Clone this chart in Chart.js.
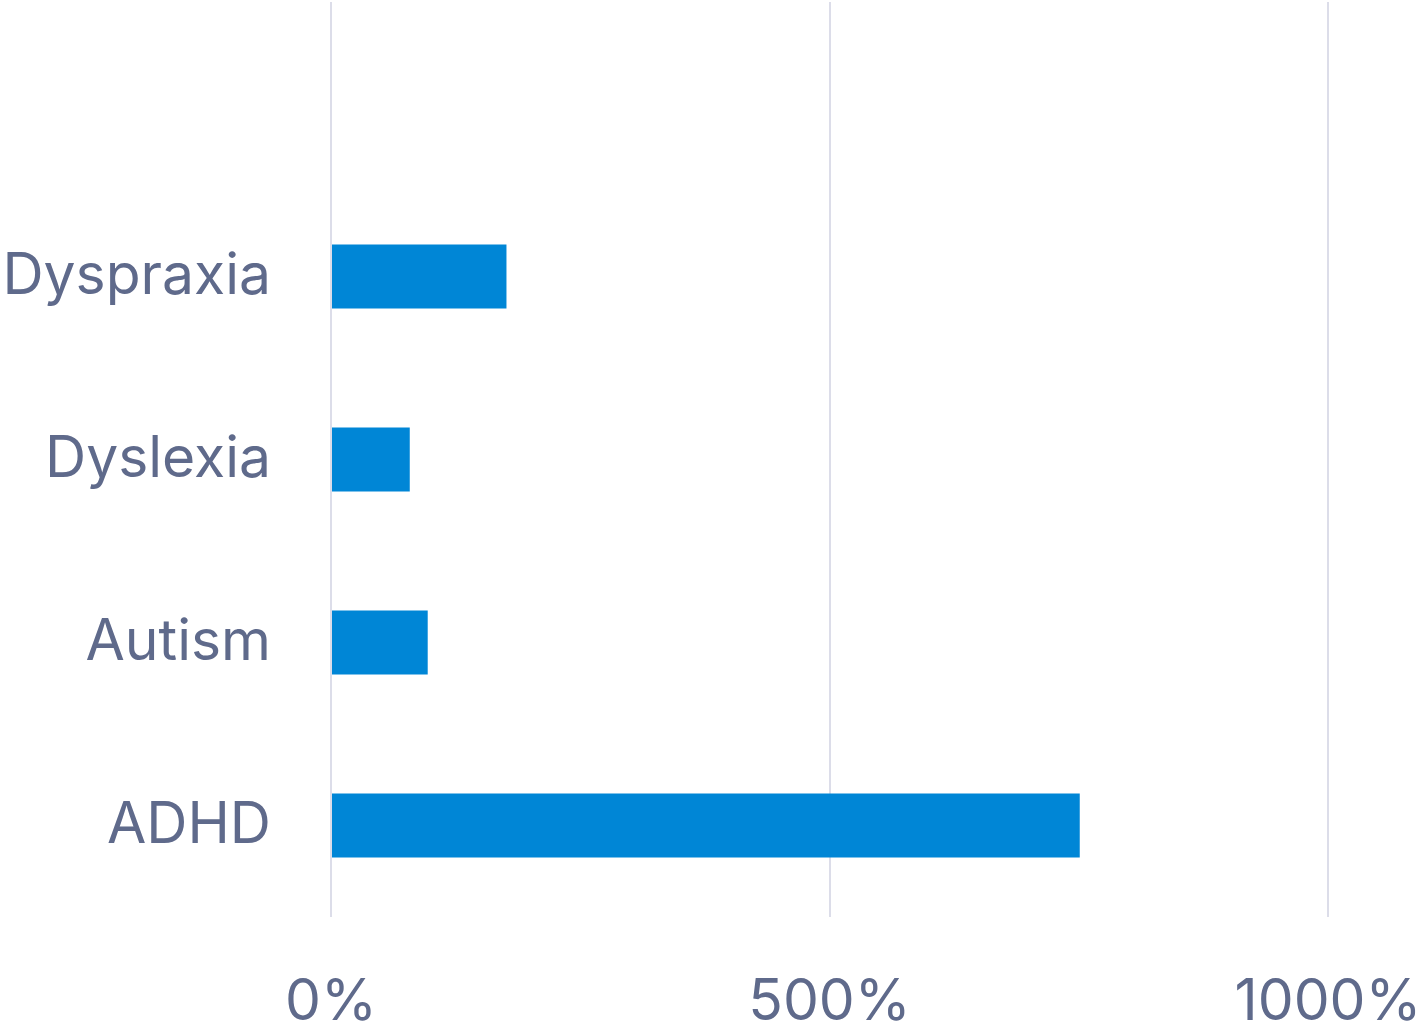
<!DOCTYPE html>
<html>
<head>
<meta charset="utf-8">
<script src="https://cdn.jsdelivr.net/npm/chart.js@4/dist/chart.umd.min.js"></script>
<style>
  html, body { margin: 0; padding: 0; background: #ffffff; }
  #wrap { width: 1425px; height: 1023px; }
</style>
</head>
<body>
<div id="wrap"><canvas id="myCanvas"></canvas></div>
<script>
// categories top to bottom (first slot is empty in the original)
var categories = ['', 'Dyspraxia', 'Dyslexia', 'Autism', 'ADHD'];
var values = [null, 176, 79, 97, 751];
var xTicks = [0, 500, 1000];

var textColor = '#5f6a8b';

var ctx = document.getElementById('myCanvas').getContext('2d');
var chart = new Chart(ctx, {
    type: 'bar',
    data: {
        labels: categories,
        datasets: [{
            data: values,
            backgroundColor: '#0086d6',
            borderWidth: 0,
            barPercentage: 0.7,
            categoryPercentage: 0.5
        }]
    },
    options: {
        indexAxis: 'y',
        responsive: true,
        maintainAspectRatio: false,
        animation: false,
        layout: { padding: { top: 2, left: 0, right: 97, bottom: 0 } },
        plugins: {
            legend: { display: false },
            tooltip: { enabled: false }
        },
        scales: {
            x: {
                min: 0,
                max: 1000,
                afterBuildTicks: function(axis) {
                    axis.ticks = xTicks.map(function(v) { return { value: v }; });
                },
                afterFit: function(axis) {
                    axis.height = 106;
                    axis.paddingLeft = 0;
                    axis.paddingRight = 0;
                },
                grid: { color: '#dcdde9', lineWidth: 2, drawTicks: false },
                border: { display: false },
                ticks: {
                    color: textColor,
                    font: { family: 'Inter', size: 57 },
                    padding: 52,
                    maxRotation: 0,
                    callback: function(v) { return v + '%'; }
                }
            },
            y: {
                afterFit: function(axis) {
                    axis.width = 331;
                    axis.paddingTop = 0;
                    axis.paddingBottom = 0;
                },
                grid: { display: false, drawTicks: false },
                border: { display: false },
                ticks: {
                    color: textColor,
                    font: { family: 'Inter', size: 57 },
                    padding: 60
                }
            }
        }
    }
});
</script>
</body>
</html>
